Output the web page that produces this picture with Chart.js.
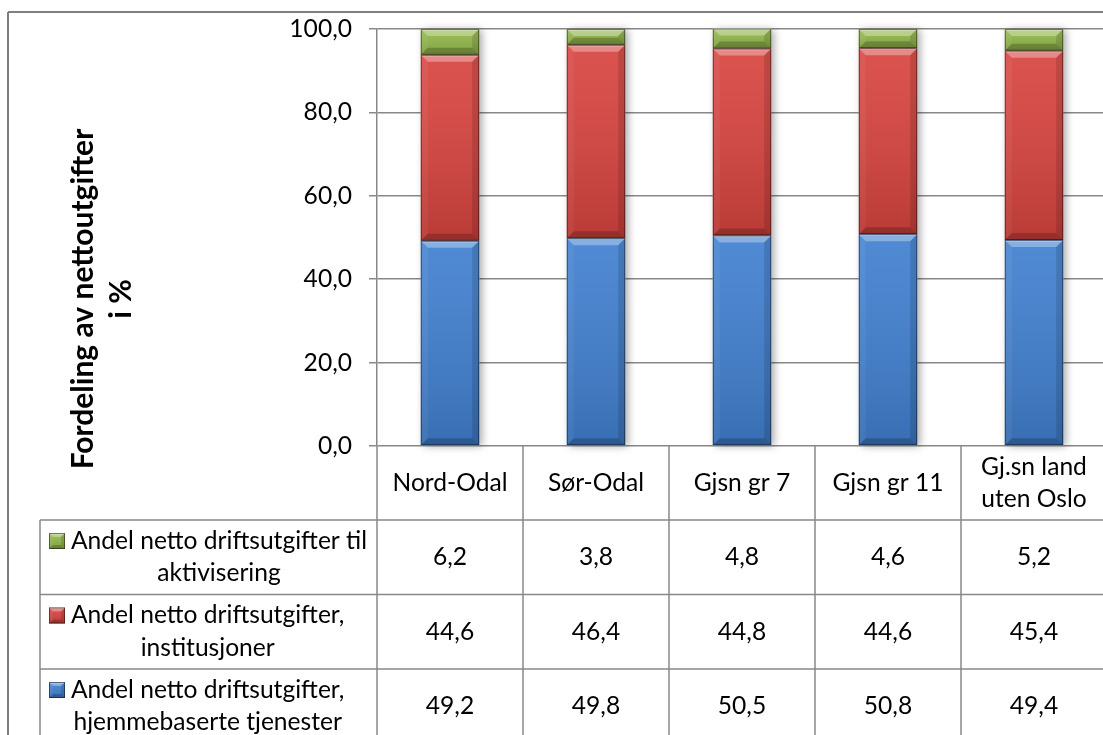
<!DOCTYPE html>
<html>
<head>
<meta charset="utf-8">
<script src="https://cdn.jsdelivr.net/npm/chart.js@4.4.1/dist/chart.umd.min.js"></script>
<style>
  html, body { margin: 0; padding: 0; background: #fff; overflow: hidden; width: 1103px; height: 735px; }
  #wrap { position: absolute; left: 0; top: 0; width: 1110px; height: 735px; }
</style>
</head>
<body>
<div id="wrap"><canvas id="c"></canvas></div>
<script>
// Categories (multi-line header cells in the data table)
const categories = [['Nord-Odal'], ['Sør-Odal'], ['Gjsn gr 7'], ['Gjsn gr 11'], ['Gj.sn land', 'uten Oslo']];

// Series names (two-line legend cells)
const nameHjemme = ['Andel netto driftsutgifter,', 'hjemmebaserte tjenester'];
const nameInst = ['Andel netto driftsutgifter,', 'institusjoner'];
const nameAktiv = ['Andel netto driftsutgifter til', 'aktivisering'];

// Values, percent of net operating expenses
const hjemmebaserte = [49.2, 49.8, 50.5, 50.8, 49.4];
const institusjoner = [44.6, 46.4, 44.8, 44.6, 45.4];
const aktivisering = [6.2, 3.8, 4.8, 4.6, 5.2];

// Value axis
const yMin = 0;
const yMax = 100;
const yStep = 20;

const axisTitle = ['Fordeling av nettoutgifter', 'i %'];

const FONT = 'Lato, "Open Sans", sans-serif';
const TXT = 24.6;
const LINE = '#888888';

const fmt = v => v.toFixed(1).replace('.', ',');

function poly(ctx, pts, fill) {
  ctx.beginPath();
  ctx.moveTo(pts[0][0], pts[0][1]);
  for (let i = 1; i < pts.length; i++) ctx.lineTo(pts[i][0], pts[i][1]);
  ctx.closePath();
  ctx.fillStyle = fill;
  ctx.fill();
}

// Soft bevel shading over a rectangle already filled in its base colour
function bevel(ctx, x0, y0, x1, y1, b) {
  const w = x1 - x0, h = y1 - y0;
  if (w <= 0 || h <= 0) return;
  const bb = Math.min(b, h / 2, w / 2);
  const g = ctx.createLinearGradient(0, y0, 0, y1);
  g.addColorStop(0, 'rgba(255,255,255,0.08)');
  g.addColorStop(1, 'rgba(0,0,0,0.14)');
  ctx.fillStyle = g;
  ctx.fillRect(x0, y0, w, h);
  poly(ctx, [[x0, y0], [x1, y0], [x1 - bb, y0 + bb], [x0 + bb, y0 + bb]], 'rgba(255,255,255,0.32)');
  poly(ctx, [[x0, y0], [x0 + bb, y0 + bb], [x0 + bb, y1 - bb], [x0, y1]], 'rgba(255,255,255,0.05)');
  poly(ctx, [[x1, y0], [x1 - bb, y0 + bb], [x1 - bb, y1 - bb], [x1, y1]], 'rgba(0,0,0,0.13)');
  poly(ctx, [[x0, y1], [x0 + bb, y1 - bb], [x1 - bb, y1 - bb], [x1, y1]], 'rgba(0,0,0,0.20)');
  ctx.fillStyle = 'rgba(255,255,255,0.35)';
  ctx.fillRect(x0 + 1, y0 + 0.5, w - 2, 1.2);
  ctx.strokeStyle = 'rgba(0,0,0,0.45)';
  ctx.lineWidth = 1;
  ctx.strokeRect(x0 + 0.5, y0 + 0.5, w - 1, h - 1);
}

function hLine(ctx, x0, x1, y) {
  ctx.beginPath(); ctx.moveTo(x0, y); ctx.lineTo(x1, y); ctx.stroke();
}
function vLine(ctx, x, y0, y1) {
  ctx.beginPath(); ctx.moveTo(x, y0); ctx.lineTo(x, y1); ctx.stroke();
}

const decorPlugin = {
  id: 'decor',
  beforeDatasetsDraw(chart) {
    // drop shadow behind each full stack
    const ctx = chart.ctx;
    const first = chart.getDatasetMeta(0).data;
    const last = chart.getDatasetMeta(chart.data.datasets.length - 1).data;
    ctx.save();
    ctx.shadowColor = 'rgba(0,0,0,0.35)';
    ctx.shadowBlur = 8;
    ctx.shadowOffsetX = 3;
    ctx.shadowOffsetY = 1;
    ctx.fillStyle = '#ffffff';
    first.forEach((el, i) => {
      const top = last[i].y;
      ctx.fillRect(el.x - el.width / 2, top, el.width, el.base - top);
    });
    ctx.restore();
  },
  afterDatasetsDraw(chart) {
    const ctx = chart.ctx;
    ctx.save();
    chart.data.datasets.forEach((ds, d) => {
      chart.getDatasetMeta(d).data.forEach(el => {
        const x0 = el.x - el.width / 2, x1 = el.x + el.width / 2;
        bevel(ctx, x0, Math.min(el.y, el.base), x1, Math.max(el.y, el.base), 7);
      });
    });
    ctx.restore();
  },
  afterDraw(chart) {
    const ctx = chart.ctx;
    const area = chart.chartArea;
    const xs = chart.scales.x;
    const H = chart.height;
    const n = categories.length;
    const step = (area.right - area.left) / n;
    const headBottom = area.bottom + 74;
    const rowH = 74.5;
    const legLeft = 40;

    ctx.save();

    // outer frame
    ctx.strokeStyle = '#7f7f7f';
    ctx.lineWidth = 2;
    hLine(ctx, 8, chart.width, 12);
    vLine(ctx, 8, 12, H);

    // table grid
    ctx.strokeStyle = LINE;
    ctx.lineWidth = 1.5;
    vLine(ctx, area.left, area.bottom, H);
    for (let i = 0; i < n; i++) {
      const xr = xs.getPixelForValue(i) + step / 2;
      vLine(ctx, xr, area.bottom, H);
    }
    const rows = [
      { name: nameAktiv, vals: aktivisering, color: chart.data.datasets[2].backgroundColor },
      { name: nameInst, vals: institusjoner, color: chart.data.datasets[1].backgroundColor },
      { name: nameHjemme, vals: hjemmebaserte, color: chart.data.datasets[0].backgroundColor }
    ];
    for (let r = 0; r < rows.length; r++) {
      hLine(ctx, legLeft, chart.width, headBottom + r * rowH);
    }
    vLine(ctx, legLeft, headBottom, H);

    ctx.fillStyle = '#000';
    ctx.textAlign = 'center';
    ctx.textBaseline = 'middle';
    ctx.font = TXT + 'px ' + FONT;
    const lh = 32.5;

    // header cells
    const headMid = (area.bottom + headBottom) / 2;
    categories.forEach((lines, i) => {
      const cx = xs.getPixelForValue(i);
      lines.forEach((t, k) => {
        ctx.fillText(t, cx, headMid + (k - (lines.length - 1) / 2) * lh);
      });
    });

    // data rows
    rows.forEach((row, r) => {
      const mid = headBottom + r * rowH + rowH / 2;
      row.vals.forEach((v, i) => {
        ctx.fillText(fmt(v), xs.getPixelForValue(i), mid);
      });
      // legend key + text block
      const y1 = mid - lh / 2;
      const keyX = 49, keyS = 16;
      ctx.fillStyle = row.color;
      ctx.fillRect(keyX, y1 - keyS / 2, keyS, keyS);
      bevel(ctx, keyX, y1 - keyS / 2, keyX + keyS, y1 + keyS / 2, 4);
      ctx.fillStyle = '#000';
      const blockLeft = 71;
      const bw = Math.max(...row.name.map(t => ctx.measureText(t).width));
      row.name.forEach((t, k) => {
        ctx.fillText(t, blockLeft + bw / 2, y1 + k * lh);
      });
    });

    // rotated axis title
    ctx.save();
    ctx.translate(102, 299);
    ctx.rotate(-Math.PI / 2);
    ctx.font = 'bold 30px ' + FONT;
    axisTitle.forEach((t, k) => {
      ctx.fillText(t, 0, (k - 0.5) * 38);
    });
    ctx.restore();

    ctx.restore();
  }
};

new Chart(document.getElementById('c'), {
  type: 'bar',
  data: {
    labels: categories.map(c => c.join(' ')),
    datasets: [
      { label: nameHjemme.join(' '), data: hjemmebaserte, backgroundColor: '#4180d0' },
      { label: nameInst.join(' '), data: institusjoner, backgroundColor: '#d8443f' },
      { label: nameAktiv.join(' '), data: aktivisering, backgroundColor: '#93b84a' }
    ]
  },
  options: {
    responsive: true,
    maintainAspectRatio: false,
    animation: false,
    layout: { padding: { left: 0, top: 29, right: 3, bottom: 289 } },
    datasets: { bar: { categoryPercentage: 1, barPercentage: 0.4, borderWidth: 0 } },
    plugins: { legend: { display: false }, tooltip: { enabled: false } },
    scales: {
      x: { stacked: true, display: false },
      y: {
        stacked: true,
        min: yMin,
        max: yMax,
        afterFit(scale) {
          scale.width = 377;
          scale.paddingTop = 0;
          scale.paddingBottom = 0;
        },
        ticks: {
          stepSize: yStep,
          padding: 17,
          color: '#000',
          font: { family: FONT, size: TXT },
          callback: v => fmt(v)
        },
        grid: { color: LINE, lineWidth: 1.5, tickLength: 8, drawTicks: true },
        border: { display: true, color: LINE, width: 1.5 }
      }
    }
  },
  plugins: [decorPlugin]
});
</script>
</body>
</html>
